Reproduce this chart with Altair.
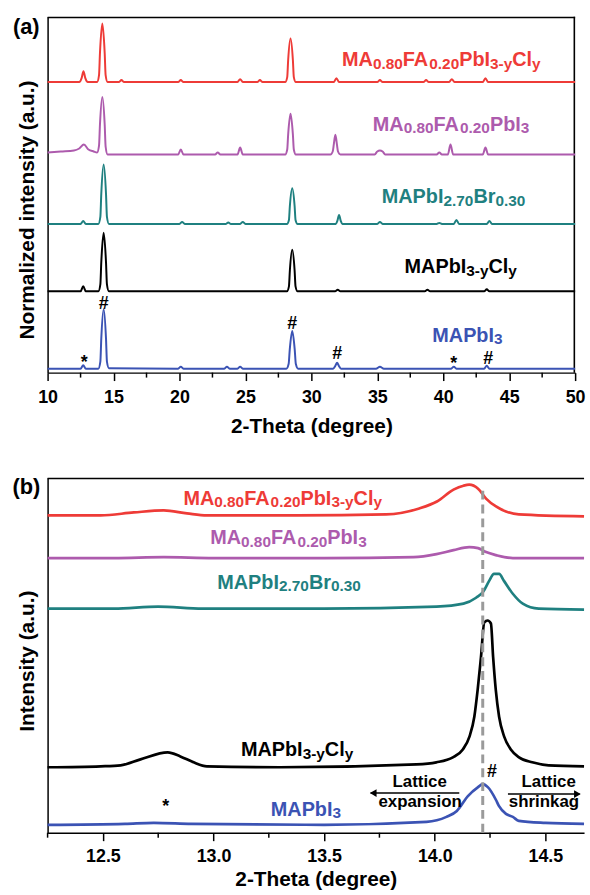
import altair as alt
import pandas as pd

FONT = "Liberation Sans"
BLACK = "#000000"

SERIES = ["MA0.80FA0.20PbI3-yCly", "MA0.80FA0.20PbI3", "MAPbI2.70Br0.30", "MAPbI3-yCly", "MAPbI3"]
COLORS = ["#EE3B37", "#AD5BAD", "#1F8080", "#000000", "#3B53B4"]

# ---------------- panel (a): 2-theta (deg), offset normalized intensity ----------------
A_RED = [(10.0, 293), (12.4, 293), (12.58, 297), (12.72, 304), (12.86, 297), (13.05, 293),
         (13.75, 293), (13.9, 300), (13.97, 322), (14.15, 352), (14.33, 322), (14.4, 300), (14.55, 293),
         (15.4, 293), (15.6, 295), (15.8, 293), (19.9, 293), (20.1, 295), (20.3, 293),
         (24.4, 293), (24.6, 296), (24.8, 293), (25.9, 293), (26.1, 295), (26.3, 293),
         (28.02, 293), (28.17, 298), (28.24, 315), (28.42, 337), (28.6, 315), (28.67, 298), (28.82, 293),
         (31.7, 293), (31.9, 297), (32.1, 293), (35.0, 293), (35.2, 295), (35.4, 293),
         (38.5, 293), (38.7, 295), (38.9, 293), (40.45, 293), (40.65, 296), (40.85, 293),
         (43.0, 293), (43.2, 297), (43.4, 293), (50.0, 293)]
A_PURPLE = [(10.0, 222), (11.0, 223), (12.0, 224), (12.4, 226), (12.75, 230), (13.1, 225), (13.5, 223),
            (13.75, 222), (13.9, 229), (13.97, 250), (14.15, 278), (14.33, 250), (14.4, 228), (14.55, 220),
            (15.5, 220), (19.9, 220), (20.1, 225), (20.3, 220), (22.7, 220), (22.9, 222), (23.1, 220),
            (24.4, 220), (24.6, 227), (24.8, 220),
            (28.02, 220), (28.17, 225), (28.24, 240), (28.42, 261), (28.6, 240), (28.67, 225), (28.82, 220),
            (31.45, 220), (31.62, 223), (31.7, 230), (31.82, 240), (31.94, 230), (32.02, 223), (32.2, 220),
            (34.8, 220), (35.0, 223), (35.2, 224), (35.4, 223), (35.6, 220), (39.5, 220), (39.7, 222),
            (39.9, 220), (40.35, 220), (40.55, 230), (40.75, 220), (43.0, 220), (43.2, 227), (43.4, 220),
            (50.0, 220)]
A_TEAL = [(10.0, 150), (12.5, 150), (12.7, 153), (12.9, 150),
          (13.85, 150), (14.0, 157), (14.07, 180), (14.25, 210), (14.43, 180), (14.5, 157), (14.65, 150),
          (20.0, 150), (20.2, 152), (20.4, 150), (23.5, 150), (23.7, 151.5), (23.9, 150),
          (24.6, 150), (24.8, 152), (25.0, 150),
          (28.15, 150), (28.3, 154), (28.37, 168), (28.55, 186), (28.73, 168), (28.8, 154), (28.95, 150),
          (31.85, 150), (31.97, 153), (32.1, 159), (32.23, 153), (32.35, 150),
          (35.0, 150), (35.2, 152), (35.4, 150), (39.5, 150), (39.7, 151), (39.9, 150),
          (40.8, 150), (41.0, 154), (41.2, 150), (43.3, 150), (43.5, 153), (43.7, 150), (50.0, 150)]
A_BLACK = [(10.0, 82), (12.5, 82), (12.7, 87), (12.9, 82),
           (13.85, 82), (14.0, 89), (14.07, 111), (14.25, 141), (14.43, 111), (14.5, 89), (14.65, 82),
           (28.15, 82), (28.3, 87), (28.37, 103), (28.55, 124), (28.73, 103), (28.8, 87), (28.95, 82),
           (31.8, 82), (32.0, 83.5), (32.2, 82), (38.6, 82), (38.8, 83.5), (39.0, 82),
           (43.1, 82), (43.3, 84), (43.5, 82), (50.0, 82)]
A_BLUE = [(10.0, 4), (12.5, 4), (12.7, 7.5), (12.9, 4),
          (13.85, 4), (14.0, 11), (14.07, 34), (14.25, 64), (14.43, 34), (14.5, 11), (14.65, 4.5),
          (19.9, 4), (20.1, 6), (20.3, 4), (23.4, 4), (23.6, 6), (23.8, 4), (24.4, 4), (24.6, 6), (24.8, 4),
          (28.1, 4), (28.28, 9), (28.36, 23), (28.55, 42), (28.74, 23), (28.82, 9), (29.0, 4),
          (31.65, 4), (31.82, 7), (31.95, 10), (32.08, 7), (32.25, 4),
          (34.9, 4), (35.2, 6), (35.5, 4), (40.6, 4), (40.8, 6), (41.0, 4), (43.1, 4), (43.3, 7), (43.5, 4),
          (50.0, 4)]

# ---------------- panel (b): zoom on the (110) peak ----------------
B_RED = [(12.25, 320), (12.49, 320), (12.64, 323), (12.775, 325), (12.88, 322), (12.97, 320), (13.38, 320),
         (13.78, 321), (13.93, 327), (14.01, 334), (14.085, 346), (14.13, 350), (14.156, 351), (14.196, 347),
         (14.232, 337), (14.277, 329), (14.322, 324), (14.38, 321), (14.675, 319)]
B_PURPLE = [(12.25, 277), (12.55, 277), (12.775, 278), (13.0, 277), (13.5, 277), (13.905, 278), (14.008, 281),
            (14.085, 285), (14.156, 288), (14.196, 287), (14.232, 283), (14.277, 280), (14.353, 277),
            (14.675, 277)]
B_TEAL = [(12.25, 226), (12.55, 226), (12.75, 228), (12.95, 226), (13.5, 226), (14.008, 228), (14.13, 231),
          (14.187, 237), (14.219, 243), (14.246, 254), (14.268, 261), (14.291, 261), (14.313, 254),
          (14.353, 241), (14.398, 231), (14.47, 226), (14.675, 225)]
B_BLACK = [(12.25, 66), (12.49, 67), (12.58, 68), (12.67, 74), (12.793, 81), (12.85, 77), (12.91, 71),
           (12.97, 67), (13.3, 66), (13.918, 69), (14.007, 71), (14.082, 76), (14.127, 84), (14.157, 97),
           (14.179, 117), (14.194, 144), (14.209, 177), (14.224, 212), (14.239, 214), (14.254, 211),
           (14.264, 177), (14.276, 144), (14.291, 117), (14.314, 97), (14.344, 84), (14.381, 76),
           (14.441, 71), (14.515, 68), (14.675, 67)]
B_BLUE = [(12.25, 8), (12.6, 9), (12.73, 10), (12.9, 9), (13.5, 8), (13.963, 11), (14.053, 16), (14.1, 22),
          (14.15, 37), (14.196, 46), (14.217, 49), (14.24, 46), (14.277, 33), (14.29, 27), (14.322, 19),
          (14.353, 16), (14.38, 12), (14.5, 10), (14.675, 9)]

A_X_MAJOR = [10, 15, 20, 25, 30, 35, 40, 45, 50]
A_X_MINOR = [12.5, 17.5, 22.5, 27.5, 32.5, 37.5, 42.5, 47.5]
B_X_MAJOR = [12.5, 13.0, 13.5, 14.0, 14.5]
B_X_MINOR = [12.25, 12.75, 13.25, 13.75, 14.25]

# label pieces: n = normal, s = subscript
LABEL_SEGS = [
    [("MA", "n"), ("0.80", "s"), ("FA", "n"), ("0.20", "s"), ("PbI", "n"), ("3-y", "s"), ("Cl", "n"), ("y", "s")],
    [("MA", "n"), ("0.80", "s"), ("FA", "n"), ("0.20", "s"), ("PbI", "n"), ("3", "s")],
    [("MAPbI", "n"), ("2.70", "s"), ("Br", "n"), ("0.30", "s")],
    [("MAPbI", "n"), ("3-y", "s"), ("Cl", "n"), ("y", "s")],
    [("MAPbI", "n"), ("3", "s")],
]
A_LABEL_AT = [(32.33, 309), (34.66, 244), (35.34, 171), (37.07, 100), (39.17, 31)]
B_LABEL_AT = [(12.864, 331), (12.985, 291), (13.017, 246), (13.124, 77), (13.259, 17)]

A_MARKERS = [("#", 14.25, 69), ("#", 28.55, 49), ("#", 31.95, 19), ("#", 43.4, 14), ("*", 12.78, 15), ("*", 40.8, 14)]
B_MARKERS = [("#", 14.259, 61), ("*", 12.784, 31)]
B_NOTES_C = [("Lattice", 13.932, 46), ("expansion", 13.934, 26), ("Lattice", 14.515, 46)]
B_NOTES_L = [("shrinkage", 14.335, 26)]
B_ARROWS = [(14.111, 13.71, 40), (14.331, 14.655, 39)]
B_HEADS = [("triangle-left", 13.722, 40), ("triangle-right", 14.645, 39)]
B_DASH = [(14.217, 0, 349)]
TAG_A = [("(a)", 8.383, 348)]
TAG_B = [("(b)", 12.154, 349)]
YTITLE_A = [("Normalized intensity (a.u.)", 8.549, 164)]
YTITLE_B = [("Intensity (a.u.)", 12.1635, 173)]
X_TITLE = "2-Theta (degree)"

# ---------------- layout constants ----------------
A_W, A_H = 532, 359
B_W, B_H = 541, 358
A_XDOM, A_YDOM = [10, 50], [0, 359]
B_XDOM, B_YDOM = [12.25, 14.675], [0, 358]
NORMAL_FS, SUB_FS, SUB_DY = 20, 15.5, 2.5
MINOR_LEN = 5
FRAME_PX = 1.6

CW = {"M": 833, "A": 722, "F": 611, "P": 667, "b": 611, "I": 278, "C": 722, "l": 278, "B": 722,
      "r": 389, "y": 556, ".": 278, "-": 333}
for _d in "0123456789":
    CW[_d] = 556


def curve_df(lists):
    rows = []
    for name, pts in zip(SERIES, lists):
        for t, v in pts:
            rows.append({"s": name, "t": t, "v": v})
    return pd.DataFrame(rows)


def label_df(anchors, ppu):
    rows = []
    for name, segs, (t0, v0) in zip(SERIES, LABEL_SEGS, anchors):
        off = 0.0
        for txt, kind in segs:
            fs = NORMAL_FS if kind == "n" else SUB_FS
            rows.append({"s": name, "t": t0 + off / ppu, "v": v0, "text": txt, "k": kind})
            off += sum(CW[c] for c in txt) / 1000.0 * fs
    return pd.DataFrame(rows)


color_enc = alt.Color("s:N", scale=alt.Scale(domain=SERIES, range=COLORS), legend=None)

major_kw = dict(orient="bottom", grid=False, tickSize=8, tickWidth=1.5, tickColor=BLACK,
                domainColor=BLACK, domainWidth=1.5, labelFont=FONT, labelFontSize=18,
                labelFontWeight="bold", labelColor=BLACK, labelFlush=False, labelOverlap=False,
                titleFont=FONT, titleFontSize=21, titleFontWeight="bold", titleColor=BLACK,
                title=X_TITLE)
yax = alt.Axis(labels=False, ticks=False, grid=False, domainColor=BLACK, domainWidth=1.5, title=None)


def build_panel(curves, label_at, markers, tag, ytitle, xdom, ydom, w, h, major, minor, fmt, lp, tp,
                lw, extra=None, right_border=False):
    xs = alt.Scale(domain=xdom, nice=False, zero=False)
    ys = alt.Scale(domain=ydom, nice=False, zero=False)
    X = lambda f="t": alt.X(f + ":Q", scale=xs, axis=None)
    Y = lambda f="v": alt.Y(f + ":Q", scale=ys, axis=None)
    ppu = w / (xdom[1] - xdom[0])
    vpu = h / (ydom[1] - ydom[0])

    layers = []
    # frame strips lying just inside the plot edges (top, and right for panel a)
    strips = [{"t": xdom[0], "t1": xdom[1], "v": ydom[1] - FRAME_PX / vpu, "v1": ydom[1]}]
    if right_border:
        strips.append({"t": xdom[1] - FRAME_PX / ppu, "t1": xdom[1], "v": ydom[0], "v1": ydom[1]})
    layers.append(alt.Chart(pd.DataFrame(strips)).mark_rect(color=BLACK, opacity=1).encode(
        x=X(), x2="t1:Q", y=Y(), y2="v1:Q"))

    lines = alt.Chart(curve_df(curves)).mark_line(interpolate="monotone", strokeWidth=lw).encode(
        x=alt.X("t:Q", scale=xs,
                axis=alt.Axis(values=major, format=fmt, labelPadding=lp, titlePadding=tp, **major_kw)),
        y=alt.Y("v:Q", scale=ys, axis=yax),
        color=color_enc, detail="s:N")
    layers.append(lines)
    if extra:
        layers += extra(X, Y)
    # minor ticks hanging below the axis line
    layers.append(alt.Chart(pd.DataFrame({"t": minor, "v": [ydom[0] - MINOR_LEN / vpu] * len(minor),
                                          "v1": [ydom[0]] * len(minor)})).mark_rule(
        color=BLACK, strokeWidth=1.5).encode(x=X(), y=Y(), y2="v1:Q"))
    lab = alt.Chart(label_df(label_at, ppu))
    layers.append(lab.transform_filter("datum.k == 'n'").mark_text(
        align="left", baseline="alphabetic", font=FONT, fontWeight="bold", fontSize=NORMAL_FS).encode(
        x=X(), y=Y(), text="text:N", color=color_enc))
    layers.append(lab.transform_filter("datum.k == 's'").mark_text(
        align="left", baseline="alphabetic", font=FONT, fontWeight="bold", fontSize=SUB_FS, dy=SUB_DY).encode(
        x=X(), y=Y(), text="text:N", color=color_enc))
    mk = alt.Chart(pd.DataFrame(markers, columns=["m", "t", "v"]))
    layers.append(mk.transform_filter("datum.m == '#'").mark_text(
        font=FONT, fontWeight="bold", fontSize=18, color=BLACK, baseline="middle").encode(
        x=X(), y=Y(), text="m:N"))
    layers.append(mk.transform_filter("datum.m == '*'").mark_text(
        font=FONT, fontWeight="bold", fontSize=18, color=BLACK, baseline="middle", dy=5).encode(
        x=X(), y=Y(), text="m:N"))
    layers.append(alt.Chart(pd.DataFrame(tag, columns=["m", "t", "v"])).mark_text(
        font=FONT, fontWeight="bold", fontSize=22, color=BLACK, baseline="middle").encode(
        x=X(), y=Y(), text="m:N"))
    layers.append(alt.Chart(pd.DataFrame(ytitle, columns=["m", "t", "v"])).mark_text(
        font=FONT, fontWeight="bold", fontSize=21, color=BLACK, baseline="middle", align="center",
        angle=270).encode(x=X(), y=Y(), text="m:N"))
    return alt.layer(*layers).resolve_axis(x="independent", y="independent").properties(width=w, height=h)


def extra_b(X, Y):
    dash = alt.Chart(pd.DataFrame(B_DASH, columns=["t", "v", "v1"])).mark_rule(
        color="#9A9A9A", strokeWidth=3, strokeDash=[9, 5]).encode(x=X(), y=Y(), y2="v1:Q")
    notes_c = alt.Chart(pd.DataFrame(B_NOTES_C, columns=["m", "t", "v"])).mark_text(
        font=FONT, fontWeight="bold", fontSize=17, color=BLACK, baseline="alphabetic").encode(
        x=X(), y=Y(), text="m:N")
    notes_l = alt.Chart(pd.DataFrame(B_NOTES_L, columns=["m", "t", "v"])).mark_text(
        font=FONT, fontWeight="bold", fontSize=17, color=BLACK, baseline="alphabetic", align="left",
        limit=74, ellipsis="\u200b").encode(x=X(), y=Y(), text="m:N")
    arrows = alt.Chart(pd.DataFrame(B_ARROWS, columns=["t", "t1", "v"])).mark_rule(
        color=BLACK, strokeWidth=1.5).encode(x=X(), x2="t1:Q", y=Y())
    heads = alt.Chart(pd.DataFrame(B_HEADS, columns=["shape", "t", "v"])).mark_point(
        filled=True, color=BLACK, opacity=1, size=60).encode(
        x=X(), y=Y(), shape=alt.Shape("shape:N", scale=None))
    return [dash, notes_c, notes_l, arrows, heads]


panel_a = build_panel([A_RED, A_PURPLE, A_TEAL, A_BLACK, A_BLUE], A_LABEL_AT, A_MARKERS, TAG_A, YTITLE_A,
                      A_XDOM, A_YDOM, A_W, A_H, A_X_MAJOR, A_X_MINOR, "d", 8, 9, 2, right_border=True)
panel_b = build_panel([B_RED, B_PURPLE, B_TEAL, B_BLACK, B_BLUE], B_LABEL_AT, B_MARKERS, TAG_B, YTITLE_B,
                      B_XDOM, B_YDOM, B_W, B_H, B_X_MAJOR, B_X_MINOR, ".1f", 7, 3, 2.7, extra=extra_b)

chart = alt.vconcat(panel_a, panel_b, spacing=38).properties(
    padding={"left": 12, "top": 12, "right": 0, "bottom": 0}, background="white"
).configure_view(stroke="transparent")

chart.save("out.html", embed_options={"renderer": "svg", "actions": False})
